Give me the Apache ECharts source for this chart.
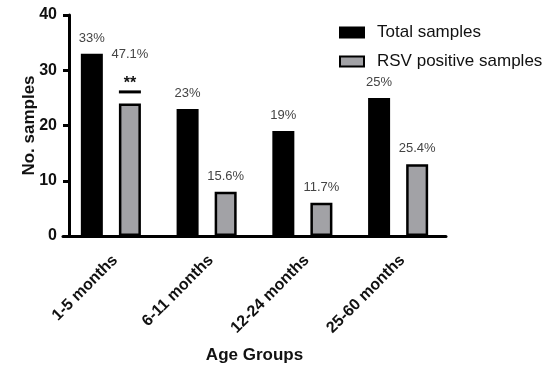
<!DOCTYPE html>
<html>
<head>
<meta charset="utf-8">
<script src="https://cdn.jsdelivr.net/npm/echarts@6/dist/echarts.min.js"></script>
<style>html,body{margin:0;padding:0;background:#fff}#c{width:549px;height:368px}</style>
</head>
<body>
<div id="c"></div>
<script>
var categories = ['1-5 months', '6-11 months', '12-24 months', '25-60 months'];
var totalSamples = [33, 23, 19, 25];
var rsvPositive = [24, 8, 6, 13];
var totalPct = ['33%', '23%', '19%', '25%'];
var rsvPct = ['47.1%', '15.6%', '11.7%', '25.4%'];
var sigMarks = ['**', '', '', ''];
var yTicks = [0, 10, 20, 30, 40];

var FONT = '"Liberation Sans", Arial, sans-serif';
var chart = echarts.init(document.getElementById('c'), null, {renderer: 'canvas'});

var rsvData = rsvPositive.map(function (v, i) {
  var item = {value: v};
  if (sigMarks[i]) {
    item.label = {
      distance: 10,
      formatter: '{p|' + rsvPct[i] + '}\n{s|' + sigMarks[i] + '}\n{l| }',
      rich: {
        p: {fontSize: 13, color: '#444', fontFamily: FONT, lineHeight: 44},
        s: {fontSize: 16, fontWeight: 'bold', color: '#111', fontFamily: FONT, lineHeight: 14},
        l: {width: 22, height: 3, lineHeight: 3, backgroundColor: '#000', fontSize: 1}
      }
    };
  }
  return item;
});

chart.setOption({
  animation: false,
  backgroundColor: '#fff',
  grid: {left: 63, right: 103, top: 15, bottom: 132, containLabel: false, outerBoundsMode: 'none'},
  legend: {
    orient: 'vertical',
    left: 334,
    top: 19,
    itemWidth: 24,
    itemHeight: 10,
    itemGap: 12,
    icon: 'rect',
    textStyle: {fontSize: 17, color: '#111', fontFamily: FONT, padding: [0, 0, 0, 8]},
    data: ['Total samples', 'RSV positive samples']
  },
  xAxis: {
    type: 'category',
    data: categories,
    boundaryGap: true,
    name: 'Age Groups',
    nameLocation: 'middle',
    nameGap: 111,
    nameMoveOverlap: false,
    nameTextStyle: {fontSize: 17, fontWeight: 'bold', color: '#111', fontFamily: FONT},
    axisLine: {lineStyle: {color: '#000', width: 3}},
    axisTick: {alignWithLabel: true, length: 8, lineStyle: {color: '#000', width: 3}},
    axisLabel: {rotate: 45, fontSize: 16, fontWeight: 'bold', color: '#111', fontFamily: FONT, margin: 26, padding: [24, -6, 0, 0], interval: 0}
  },
  yAxis: {
    type: 'value',
    min: yTicks[0],
    max: yTicks[yTicks.length - 1],
    interval: 10,
    offset: -6,
    name: 'No. samples',
    nameLocation: 'middle',
    nameGap: 31,
    nameMoveOverlap: false,
    nameTextStyle: {fontSize: 17, fontWeight: 'bold', color: '#111', fontFamily: FONT},
    axisLine: {show: true, lineStyle: {color: '#000', width: 3}},
    axisTick: {show: true, length: 6, lineStyle: {color: '#000', width: 3}},
    axisLabel: {fontSize: 16, fontWeight: 'bold', color: '#111', fontFamily: FONT, margin: 12},
    splitLine: {show: false}
  },
  series: [
    {
      name: 'Total samples',
      type: 'bar',
      data: totalSamples,
      barWidth: 22,
      barGap: '73%',
      itemStyle: {color: '#000', borderColor: '#000', borderWidth: 2},
      label: {
        show: true, position: 'top', distance: 9,
        fontSize: 13, color: '#444', fontFamily: FONT,
        formatter: function (p) { return totalPct[p.dataIndex]; }
      }
    },
    {
      name: 'RSV positive samples',
      type: 'bar',
      data: rsvData,
      barWidth: 22,
      itemStyle: {color: '#a2a2a6', borderColor: '#000', borderWidth: 2.5},
      label: {
        show: true, position: 'top', distance: 9,
        fontSize: 13, color: '#444', fontFamily: FONT,
        formatter: function (p) { return rsvPct[p.dataIndex]; }
      }
    }
  ]
});
</script>
</body>
</html>
